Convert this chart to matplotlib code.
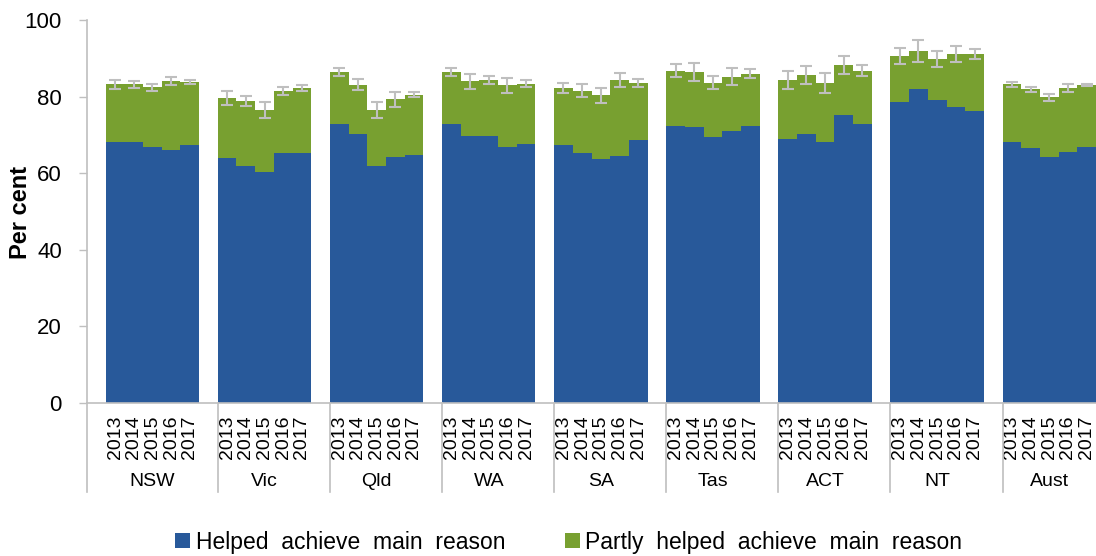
import matplotlib
matplotlib.use('Agg')
import matplotlib.pyplot as plt
from matplotlib.patches import Patch
from matplotlib.transforms import blended_transform_factory

plt.rcParams['font.family'] = ['Liberation Sans', 'DejaVu Sans']

states = ['NSW', 'Vic', 'Qld', 'WA', 'SA', 'Tas', 'ACT', 'NT', 'Aust']
years = ['2013', '2014', '2015', '2016', '2017']

# "Helped achieve main reason" (per cent), per state, 2013-2017
helped = [
    [68.2, 68.2, 66.9, 66.1, 67.4],   # NSW
    [64.0, 61.9, 60.3, 65.2, 65.4],   # Vic
    [72.8, 70.2, 62.0, 64.1, 64.8],   # Qld
    [72.8, 69.8, 69.8, 66.9, 67.7],   # WA
    [67.4, 65.3, 63.7, 64.4, 68.6],   # SA
    [72.4, 72.0, 69.5, 71.1, 72.4],   # Tas
    [69.0, 70.2, 68.1, 75.2, 72.8],   # ACT
    [78.6, 81.9, 79.0, 77.3, 76.2],   # NT
    [68.1, 66.5, 64.1, 65.6, 66.9],   # Aust
]
# Total (helped + partly helped)
total = [
    [83.2, 83.2, 82.4, 84.0, 83.9],
    [79.7, 78.9, 76.5, 81.4, 82.2],
    [86.4, 83.1, 76.5, 79.3, 80.5],
    [86.4, 84.0, 84.3, 82.9, 83.4],
    [82.2, 81.5, 80.3, 84.3, 83.6],
    [86.8, 86.4, 83.6, 85.2, 86.0],
    [84.3, 85.6, 83.6, 88.2, 86.8],
    [90.6, 91.9, 89.8, 91.1, 91.0],
    [83.2, 81.9, 79.8, 82.2, 83.1],
]
# Error margins on total (+/-)
errors = [
    [1.1, 0.9, 0.9, 1.1, 0.5],
    [1.8, 1.3, 2.1, 1.1, 0.7],
    [1.1, 1.5, 2.1, 1.9, 0.7],
    [1.0, 1.9, 1.1, 1.9, 0.9],
    [1.3, 1.7, 1.9, 1.9, 1.1],
    [1.7, 2.3, 1.7, 2.2, 1.1],
    [2.3, 2.3, 2.6, 2.4, 1.5],
    [2.1, 2.8, 2.1, 2.0, 1.3],
    [0.7, 0.7, 0.9, 1.0, 0.3],
]

blue = '#28599A'
green = '#78A030'
grey = '#BFBFBF'

fig = plt.figure(figsize=(10.96, 5.56), dpi=100)
ax = fig.add_axes([87 / 1096, 153 / 556, 1 - 87 / 1096, 383 / 556])

centers = []
for g, st in enumerate(states):
    start = 1 + g * 6
    xs = [start + k + 0.5 for k in range(len(years))]
    centers += xs
    partly = [t - h for t, h in zip(total[g], helped[g])]
    ax.bar(xs, helped[g], width=1.0, color=blue, linewidth=0)
    ax.bar(xs, partly, width=1.0, bottom=helped[g], color=green, linewidth=0)
    ax.errorbar(xs, total[g], yerr=errors[g], fmt='none', ecolor=grey,
                elinewidth=1.5, capsize=4.3, capthick=1.5)

ax.set_xlim(0, 54)
ax.set_ylim(0, 100)
ax.set_yticks([0, 20, 40, 60, 80, 100])
ax.tick_params(axis='y', labelsize=16, length=6, color='#BFBFBF', width=1, pad=12)
ax.set_xticks(centers)
ax.set_xticklabels(years * len(states), rotation=90, fontsize=14)
ax.tick_params(axis='x', length=0, pad=9)

for s in ['top', 'right']:
    ax.spines[s].set_visible(False)
for s in ['left', 'bottom']:
    ax.spines[s].set_color('#BFBFBF')
    ax.spines[s].set_linewidth(1.2)

trans = blended_transform_factory(ax.transData, ax.transAxes)
seps = [0] + [1 + g * 6 for g in range(1, len(states))]
for x in seps:
    ax.plot([x, x], [0, -0.232], transform=trans, color='#BFBFBF',
            linewidth=1.2, clip_on=False)
for g, st in enumerate(states):
    ax.text(1 + g * 6 + 2.5, -0.204, st, transform=trans, ha='center',
            va='center', fontsize=14)

fig.text(21 / 1096, 1 - 212 / 556, 'Per cent', rotation=90, ha='center',
         va='center', fontsize=17, fontweight='bold')

handles = [Patch(facecolor=blue, edgecolor='none'),
           Patch(facecolor=green, edgecolor='none')]
fig.legend(handles, ['Helped  achieve  main  reason',
                     'Partly  helped  achieve  main  reason'],
           loc='center', bbox_to_anchor=(0.519, 0.025), ncol=2, frameon=False,
           fontsize=16.5, handlelength=0.65, handleheight=0.65,
           handletextpad=0.25, columnspacing=2.6)

fig.savefig('out.png', dpi=100)
